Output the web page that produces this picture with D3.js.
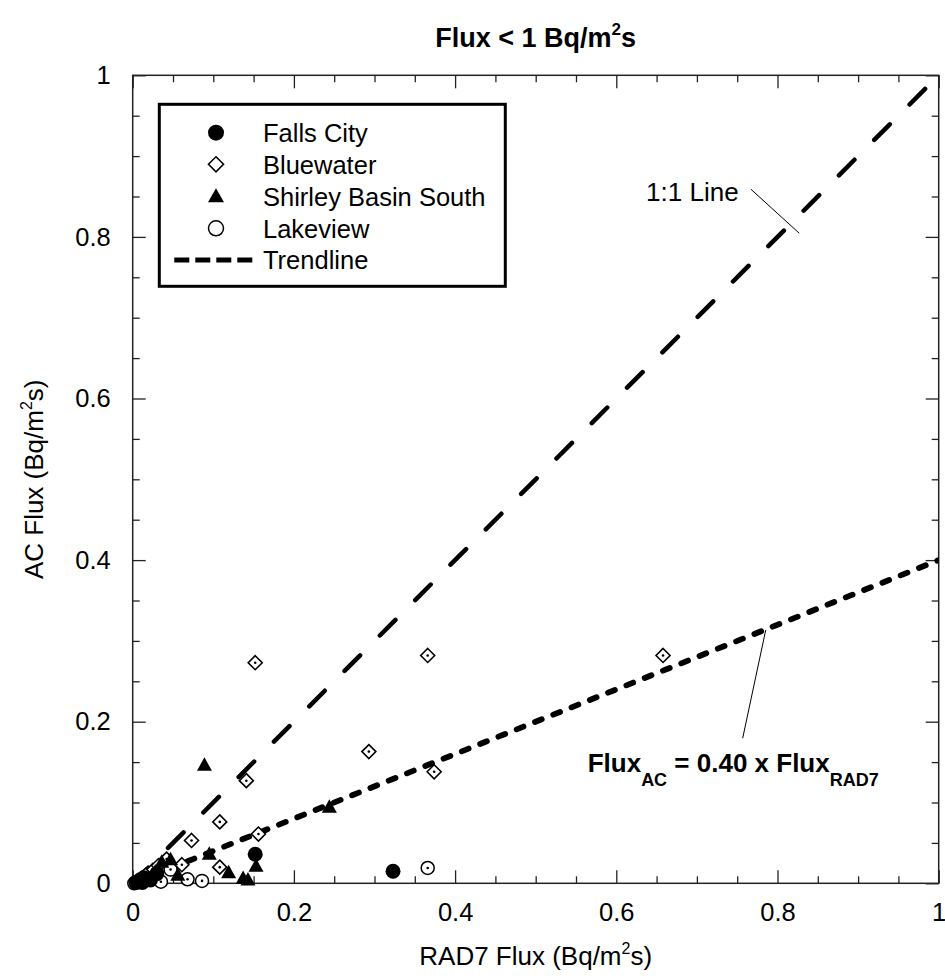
<!DOCTYPE html>
<html>
<head>
<meta charset="utf-8">
<script src="https://cdn.jsdelivr.net/npm/d3@7"></script>
<style>
  html, body { margin: 0; padding: 0; background: #fff; }
  svg { display: block; font-family: "Liberation Sans", Arial, Helvetica, sans-serif; }
</style>
</head>
<body>
<svg id="chart" width="945" height="978"></svg>
<script>
// ---------------- DATA ----------------
const xTickLabels = [0, 0.2, 0.4, 0.6, 0.8, 1];
const yTickLabels = [0, 0.2, 0.4, 0.6, 0.8, 1];
const minorStep = 0.05;

const fallsCityX = [0.152, 0.323, 0.004, 0.009, 0.014, 0.022, 0.030, 0.012];
const fallsCityY = [0.036, 0.015, 0.001, 0.004, 0.007, 0.004, 0.012, 0.001];

const bluewaterX = [0.152, 0.366, 0.658, 0.293, 0.374, 0.141, 0.108, 0.073, 0.156, 0.108, 0.061, 0.025, 0.032, 0.016, 0.042];
const bluewaterY = [0.273, 0.282, 0.282, 0.163, 0.138, 0.127, 0.076, 0.053, 0.061, 0.020, 0.023, 0.016, 0.022, 0.010, 0.030];

const shirleyX = [0.089, 0.244, 0.095, 0.153, 0.119, 0.137, 0.143, 0.047, 0.036, 0.028, 0.056];
const shirleyY = [0.146, 0.094, 0.036, 0.021, 0.013, 0.006, 0.004, 0.029, 0.026, 0.014, 0.010];

const lakeviewX = [0.366, 0.047, 0.068, 0.086, 0.035, 0.019, 0.004, 0.010, 0.015, 0.026, 0.002];
const lakeviewY = [0.019, 0.017, 0.005, 0.003, 0.002, 0.005, 0.001, 0.003, 0.008, 0.010, 0.000];

const oneToOneX = [0, 1];
const oneToOneY = [0, 1];
const trendSlope = 0.40;
const trendX = [0, 1];

const seriesNames = ["Falls City", "Bluewater", "Shirley Basin South", "Lakeview"];
const trendName = "Trendline";

// ---------------- LAYOUT ----------------
const svg = d3.select("#chart");
const plot = { left: 132.7, right: 938.7, top: 75.3, bottom: 883.3 };
const x = d3.scaleLinear().domain([0, 1]).range([plot.left, plot.right]);
const y = d3.scaleLinear().domain([0, 1]).range([plot.bottom, plot.top]);
const fmt = d3.format("~g");
const axisColor = "#222";
const fontFam = '"Liberation Sans", Arial, Helvetica, sans-serif';

const minorTicks = d3.range(0, 1 + 1e-9, minorStep).filter(v => !xTickLabels.some(m => Math.abs(m - v) < 1e-9));
const minorTicksY = d3.range(0, 1 + 1e-9, minorStep).filter(v => !yTickLabels.some(m => Math.abs(m - v) < 1e-9));

const MAJ = 13, MIN = 7;

function styleAxis(g) {
  g.select(".domain").remove();
  g.selectAll("line").attr("stroke", axisColor).attr("stroke-width", 1.3);
  g.selectAll("text").attr("fill", "#000").style("font-size", "25.5px").style("font-family", fontFam);
}

// bottom
svg.append("g").attr("transform", `translate(0,${plot.bottom})`)
  .call(d3.axisBottom(x).tickValues(xTickLabels).tickSizeInner(-MAJ).tickSizeOuter(0).tickPadding(20).tickFormat(fmt))
  .call(styleAxis);
svg.append("g").attr("transform", `translate(0,${plot.bottom})`)
  .call(d3.axisBottom(x).tickValues(minorTicks).tickSizeInner(-MIN).tickSizeOuter(0).tickFormat(""))
  .call(styleAxis);
// top
svg.append("g").attr("transform", `translate(0,${plot.top})`)
  .call(d3.axisTop(x).tickValues(xTickLabels).tickSizeInner(-MAJ).tickSizeOuter(0).tickFormat(""))
  .call(styleAxis);
svg.append("g").attr("transform", `translate(0,${plot.top})`)
  .call(d3.axisTop(x).tickValues(minorTicks).tickSizeInner(-MIN).tickSizeOuter(0).tickFormat(""))
  .call(styleAxis);
// left
svg.append("g").attr("transform", `translate(${plot.left},0)`)
  .call(d3.axisLeft(y).tickValues(yTickLabels).tickSizeInner(-MAJ).tickSizeOuter(0).tickPadding(22).tickFormat(fmt))
  .call(styleAxis);
svg.append("g").attr("transform", `translate(${plot.left},0)`)
  .call(d3.axisLeft(y).tickValues(minorTicksY).tickSizeInner(-MIN).tickSizeOuter(0).tickFormat(""))
  .call(styleAxis);
// right
svg.append("g").attr("transform", `translate(${plot.right},0)`)
  .call(d3.axisRight(y).tickValues(yTickLabels).tickSizeInner(-MAJ).tickSizeOuter(0).tickFormat(""))
  .call(styleAxis);
svg.append("g").attr("transform", `translate(${plot.right},0)`)
  .call(d3.axisRight(y).tickValues(minorTicksY).tickSizeInner(-MIN).tickSizeOuter(0).tickFormat(""))
  .call(styleAxis);

// frame
svg.append("rect")
  .attr("x", x(0)).attr("y", y(1))
  .attr("width", x(1) - x(0)).attr("height", y(0) - y(1))
  .attr("fill", "none").attr("stroke", axisColor).attr("stroke-width", 1.5);

// clip
svg.append("clipPath").attr("id", "clip").append("rect")
  .attr("x", x(0)).attr("y", y(1)).attr("width", x(1) - x(0)).attr("height", y(0) - y(1));
const pg = svg.append("g").attr("clip-path", "url(#clip)");

const line = d3.line().x(d => x(d[0])).y(d => y(d[1]));

// 1:1 line
pg.append("path")
  .datum(oneToOneX.map((v, i) => [v, oneToOneY[i]]))
  .attr("d", line)
  .attr("fill", "none").attr("stroke", "#000").attr("stroke-width", 4.5)
  .attr("stroke-linecap", "round").attr("stroke-dasharray", "22,28");

// trendline
pg.append("path")
  .datum(trendX.map(v => [v, v * trendSlope]))
  .attr("d", line)
  .attr("fill", "none").attr("stroke", "#000").attr("stroke-width", 5.8)
  .attr("stroke-linecap", "round").attr("stroke-dasharray", "7.3,12.4");

// marker shapes
const diamondPath = "M0,-7L7,0L0,7L-7,0Z";
const trianglePath = "M0,-8L7.5,5.5L-7.5,5.5Z";

const mg = svg.append("g");
function pts(xs, ys) { return xs.map((v, i) => [v, ys[i]]); }

// Lakeview (open circle with dot)
const lk = mg.selectAll(".lk").data(pts(lakeviewX, lakeviewY)).enter().append("g")
  .attr("transform", d => `translate(${x(d[0])},${y(d[1])})`);
lk.append("circle").attr("r", 6.5).attr("fill", "#fff").attr("stroke", "#000").attr("stroke-width", 1.5);
lk.append("circle").attr("r", 1.3).attr("fill", "#000");

// Bluewater (diamond with dot)
const bw = mg.selectAll(".bw").data(pts(bluewaterX, bluewaterY)).enter().append("g")
  .attr("transform", d => `translate(${x(d[0])},${y(d[1])})`);
bw.append("path").attr("d", diamondPath).attr("fill", "#fff").attr("stroke", "#000").attr("stroke-width", 1.6);
bw.append("circle").attr("r", 1.3).attr("fill", "#000");

// Shirley Basin South (filled triangle)
mg.selectAll(".sb").data(pts(shirleyX, shirleyY)).enter().append("path")
  .attr("transform", d => `translate(${x(d[0])},${y(d[1])})`)
  .attr("d", trianglePath).attr("fill", "#000");

// Falls City (filled circle)
mg.selectAll(".fc").data(pts(fallsCityX, fallsCityY)).enter().append("circle")
  .attr("cx", d => x(d[0])).attr("cy", d => y(d[1])).attr("r", 7.5).attr("fill", "#000");

// ---------------- ANNOTATIONS ----------------
const oneLabel = { x: 0.637, y: 0.8444, lx1: 0.767, ly1: 0.859, lx2: 0.827, ly2: 0.8045 };
svg.append("text").attr("x", x(oneLabel.x)).attr("y", y(oneLabel.y))
  .style("font-size", "26px").text("1:1 Line");
svg.append("line")
  .attr("x1", x(oneLabel.lx1)).attr("y1", y(oneLabel.ly1))
  .attr("x2", x(oneLabel.lx2)).attr("y2", y(oneLabel.ly2))
  .attr("stroke", "#000").attr("stroke-width", 1);

const eqLabel = { x: 0.5645, y: 0.1378, lx1: 0.7854, ly1: 0.3135, lx2: 0.7568, ly2: 0.1795 };
svg.append("line")
  .attr("x1", x(eqLabel.lx1)).attr("y1", y(eqLabel.ly1))
  .attr("x2", x(eqLabel.lx2)).attr("y2", y(eqLabel.ly2))
  .attr("stroke", "#000").attr("stroke-width", 1);
const eq = svg.append("text").attr("x", x(eqLabel.x)).attr("y", y(eqLabel.y))
  .style("font-size", "26px").style("font-weight", "bold");
eq.append("tspan").text("Flux");
eq.append("tspan").attr("dy", 14).style("font-size", "18px").text("AC");
eq.append("tspan").attr("dy", -14).text(" = 0.40 x Flux");
eq.append("tspan").attr("dy", 14).style("font-size", "18px").text("RAD7");

// ---------------- TITLES ----------------
const title = svg.append("text").attr("x", (plot.left + plot.right) / 2).attr("y", 47)
  .attr("text-anchor", "middle").style("font-size", "27px").style("font-weight", "bold");
title.append("tspan").text("Flux < 1 Bq/m");
title.append("tspan").attr("dy", -12).style("font-size", "17px").text("2");
title.append("tspan").attr("dy", 12).text("s");

const xl = svg.append("text").attr("x", (plot.left + plot.right) / 2).attr("y", 965)
  .attr("text-anchor", "middle").style("font-size", "26px");
xl.append("tspan").text("RAD7 Flux (Bq/m");
xl.append("tspan").attr("dy", -11).style("font-size", "16px").text("2");
xl.append("tspan").attr("dy", 11).text("s)");

const yl = svg.append("text")
  .attr("transform", `translate(43,${(plot.top + plot.bottom) / 2}) rotate(-90)`)
  .attr("text-anchor", "middle").style("font-size", "26px");
yl.append("tspan").text("AC Flux (Bq/m");
yl.append("tspan").attr("dy", -11).style("font-size", "16px").text("2");
yl.append("tspan").attr("dy", 11).text("s)");

// ---------------- LEGEND ----------------
const lg = svg.append("g").attr("transform", `translate(${plot.left + 26.6},${plot.top + 29})`);
const lgW = 346, lgH = 182;
lg.append("rect").attr("width", lgW).attr("height", lgH)
  .attr("fill", "#fff").attr("stroke", "#000").attr("stroke-width", 3);
const rowY = [28.4, 60, 92.4, 124, 155.7];
const mx = 56.7, tx = 103.7;
// Falls City
lg.append("circle").attr("cx", mx).attr("cy", rowY[0]).attr("r", 8).attr("fill", "#000");
// Bluewater
lg.append("path").attr("transform", `translate(${mx},${rowY[1]})`).attr("d", "M0,-7.5L7.5,0L0,7.5L-7.5,0Z")
  .attr("fill", "#fff").attr("stroke", "#000").attr("stroke-width", 1.6);
// Shirley
lg.append("path").attr("transform", `translate(${mx},${rowY[2]})`).attr("d", "M0,-8.5L8,5.5L-8,5.5Z").attr("fill", "#000");
// Lakeview
lg.append("circle").attr("cx", mx).attr("cy", rowY[3]).attr("r", 7.5)
  .attr("fill", "#fff").attr("stroke", "#000").attr("stroke-width", 1.5);
// Trendline
lg.append("line").attr("x1", 15).attr("x2", 96).attr("y1", rowY[4]).attr("y2", rowY[4])
  .attr("stroke", "#000").attr("stroke-width", 5).attr("stroke-dasharray", "15,6");
seriesNames.concat([trendName]).forEach((n, i) => {
  lg.append("text").attr("x", tx).attr("y", rowY[i] + 9.5).style("font-size", "25.5px").text(n);
});
</script>
</body>
</html>
